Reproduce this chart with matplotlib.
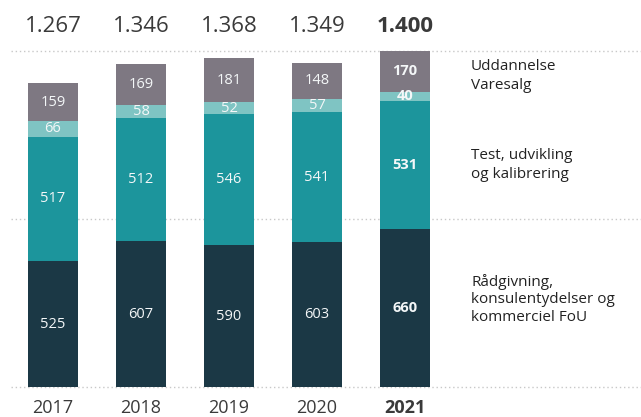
import matplotlib.pyplot as plt
import numpy as np

plt.rcParams['font.family'] = ['Open Sans', 'DejaVu Sans']

years = ['2017', '2018', '2019', '2020', '2021']
raadgivning = [525, 607, 590, 603, 660]
test_udvikling = [517, 512, 546, 541, 531]
varesalg = [66, 58, 52, 57, 40]
uddannelse = [159, 169, 181, 148, 170]
totals = ['1.267', '1.346', '1.368', '1.349', '1.400']

series = [raadgivning, test_udvikling, varesalg, uddannelse]
colors = ['#1b3845', '#1c959c', '#7fc4c3', '#7e7882']
gridlines = [0, 700, 1400]

fig = plt.figure(figsize=(6.41, 4.17), dpi=100)
ax = fig.add_axes([11 / 641, 30 / 417, 630 / 641, 336 / 417])

x = np.arange(len(years))
width = 0.57
bottom = np.zeros(len(years))
for vals, col in zip(series, colors):
    vals = np.array(vals)
    ax.bar(x, vals, width, bottom=bottom, color=col, zorder=2)
    for i, v in enumerate(vals):
        ax.text(x[i], bottom[i] + v / 2, str(v), ha='center', va='center',
                color='#f4f7f8', fontsize=10.5,
                fontweight='bold' if i == len(years) - 1 else 'normal')
    bottom += vals

for g in gridlines:
    ax.axhline(g, color='#c8c8c8', lw=1, ls=(0, (1, 2)), zorder=1, clip_on=False)

for i, t in enumerate(totals):
    bold = 'bold' if i == len(years) - 1 else 'normal'
    ax.text(x[i], 1500, t, ha='center', va='center', fontsize=16,
            color='#3a3a3a', fontweight=bold, clip_on=False)
    ax.text(x[i], -88, years[i], ha='center', va='center', fontsize=13,
            color='#3a3a3a', fontweight=bold, clip_on=False)

# category labels to the right of the last bar
last = len(years) - 1
label_x = 4.75
ax.text(label_x, raadgivning[last] + test_udvikling[last] + (varesalg[last] + uddannelse[last]) / 2,
        'Uddannelse\nVaresalg', ha='left', va='center', fontsize=11,
        color='#222222', linespacing=1.3)
ax.text(label_x, raadgivning[last] + test_udvikling[last] / 2,
        'Test, udvikling\nog kalibrering', ha='left', va='center', fontsize=11,
        color='#222222', linespacing=1.3)
ax.text(label_x, raadgivning[last] / 2 + 35,
        'Rådgivning,\nkonsulentydelser og\nkommerciel FoU', ha='left', va='center',
        fontsize=11, color='#222222', linespacing=1.2)

ax.set_xlim(-0.477, 6.68)
ax.set_ylim(0, 1400)
ax.axis('off')

fig.savefig('out.png', dpi=100)
